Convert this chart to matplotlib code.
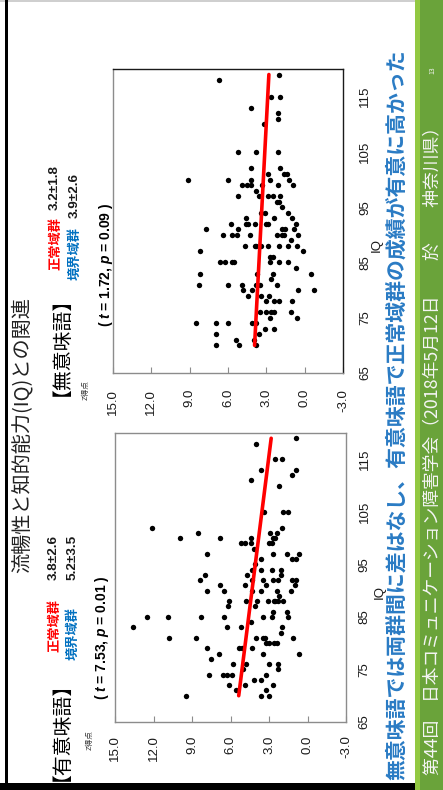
import matplotlib
matplotlib.use("Agg")
import matplotlib.pyplot as plt
from matplotlib.patches import Rectangle

W, H, DPI = 443, 790, 100

# ---------------- data ----------------
# 有意味語 (meaningful words): IQ and Z score per child
meaningful_iq = [70, 71, 70, 70, 71, 72, 72, 72, 73, 73, 74, 74, 74, 74, 74, 76, 76, 75,
                 76, 76, 75, 77, 78, 78, 78, 79, 79, 79, 79, 81, 81, 81, 81, 81, 80, 80,
                 80, 80, 81, 83, 85, 85, 85, 85, 83, 83, 84, 85, 85, 83, 82, 85, 86, 86,
                 87, 87, 88, 88, 88, 88, 88, 88, 88, 88, 90, 90, 91, 91, 90, 90, 91, 92,
                 92, 90, 89, 90, 91, 92, 92, 92, 93, 93, 92, 92, 94, 93, 94, 94, 94, 95,
                 96, 97, 97, 97, 96, 96, 97, 98, 99, 99, 99, 99, 100, 99, 100, 100, 100,
                 100, 101, 101, 101, 102, 102, 105, 105, 105, 110, 111, 113, 112, 113,
                 115, 115, 118, 119]
meaningful_z = [9.5, 5.6, 3.6, 3.0, 3.2, 6.1, 4.9, 2.7, 3.6, 4.2, 3.2, 7.7, 6.6, 6.3, 5.9,
                5.8, 4.8, 5.0, 3.0, 2.3, 2.3, 7.5, 6.9, 3.5, 0.7, 7.8, 5.3, 5.1, 4.3, 10.8,
                8.7, 4.0, 3.5, 3.3, 3.2, 3.0, 2.6, 2.4, 1.1, 13.6, 10.9, 12.5, 8.3, 6.5,
                6.3, 5.2, 4.4, 3.5, 2.8, 2.0, 2.1, 1.5, 1.6, 2.7, 4.1, 6.2, 6.1, 4.8, 3.9,
                3.1, 2.6, 2.5, 2.3, 1.9, 6.5, 7.8, 6.8, 4.9, 4.3, 3.6, 3.2, 2.7, 2.3, 2.4,
                2.2, 1.3, 1.0, 1.2, 0.9, 8.4, 8.0, 4.7, 4.3, 3.5, 2.8, 2.1, 2.1, 3.6, 4.3,
                4.1, 3.6, 7.8, 2.7, 1.6, 1.2, 0.9, 0.7, 4.2, 3.0, 2.8, 5.2, 4.9, 4.4, 4.4,
                6.8, 9.9, 2.7, 2.5, 8.5, 2.9, 2.4, 2.0, 12.1, 3.4, 1.9, 1.5, 2.2, 4.4, 3.6,
                1.2, 0.9, 2.5, 2.0, 4.0, 0.9]

# 無意味語 (nonsense words)
nonsense_iq = [70, 72, 70, 71, 70, 71, 72, 74, 74, 74, 74, 74, 73, 73, 75, 76, 76, 76, 76,
               75, 76, 78, 78, 78, 78, 79, 79, 79, 80, 80, 81, 81, 81, 81, 80, 80, 81, 81,
               83, 83, 83, 82, 84, 83, 85, 86, 86, 85, 85, 85, 85, 85, 85, 87, 88, 88, 88,
               88, 88, 88, 88, 88, 87, 89, 90, 90, 90, 90, 90, 90, 90, 90, 91, 91, 91, 91,
               91, 92, 92, 92, 92, 92, 92, 92, 93, 93, 93, 94, 94, 94, 95, 96, 96, 97, 97,
               97, 97, 97, 99, 99, 99, 98, 99, 99, 99, 100, 100, 100, 100, 100, 101, 101,
               101, 102, 102, 105, 105, 105, 110, 111, 112, 113, 115, 115, 118, 119]
nonsense_z = [6.9, 6.9, 5.1, 5.4, 3.8, 4.0, 3.6, 8.5, 6.9, 6.0, 4.1, 3.8, 3.1, 2.4, 2.7,
              3.5, 3.0, 2.6, 2.4, 0.6, 1.1, 1.0, 3.0, 2.4, 2.0, 2.8, 3.4, 4.4, 4.1, 4.8,
              4.9, 3.8, 3.5, 2.2, 0.5, -0.7, 6.0, 8.3, 8.2, 3.7, 2.5, 2.6, 0.7, -0.5, 2.0,
              2.7, 2.5, 2.7, 1.3, 6.6, 6.2, 5.7, 5.5, 8.2, 4.7, 3.9, 3.8, 3.4, 2.9, 2.0,
              1.3, 0.6, 0.1, 1.1, 0.5, 1.8, 1.6, 2.2, 4.3, 6.4, 5.7, 5.3, 0.8, 1.5, 1.8,
              5.2, 7.7, 5.8, 4.6, 4.4, 3.9, 3.0, 2.9, 0.7, 4.6, 2.4, 1.0, 3.4, 3.1, 1.3,
              1.8, 2.2, 2.0, 5.2, 3.6, 2.9, 2.5, 1.9, 4.9, 4.5, 4.2, 3.8, 3.3, 2.1, 0.9,
              9.1, 6.0, 4.2, 2.7, 1.2, 2.9, 1.6, 1.4, 4.2, 1.9, 5.2, 3.8, 2.1, 3.2, 2.1,
              2.1, 4.2, 2.6, 1.9, 6.7, 2.0]

# linear trend lines (IQ range and fitted Z at both ends)
meaningful_fit_iq = [70, 119]
meaningful_fit_z = [5.36, 2.83]
nonsense_fit_iq = [70, 119]
nonsense_fit_z = [3.92, 2.80]

z_ticks = [15, 12, 9, 6, 3, 0, -3]
z_ticklabels = ["15.0", "12.0", "9.0", "6.0", "3.0", "0.0", "-3.0"]
iq_ticks = [65, 75, 85, 95, 105, 115]

title = "流暢性と知的能力(IQ)との関連"
panel_titles = ["【有意味語】", "【無意味語】"]
normal_means = ["3.8±2.6", "3.2±1.8"]
border_means = ["5.2±3.5", "3.9±2.6"]
t_values = ["7.53", "1.72"]
p_values = ["0.01", "0.09"]
conclusion = "無意味語では両群間に差はなし、有意味語で正常域群の成績が有意に高かった"
footer = "第44回　日本コミュニケーション障害学会（2018年5月12日　　於　　神奈川県）"
page_no = "13"

# ---------------- style ----------------
JP = ["Noto Sans CJK JP", "DejaVu Sans"]
LAT = ["Liberation Sans", "Noto Sans CJK JP"]
plt.rcParams["font.family"] = LAT
plt.rcParams["mathtext.fontset"] = "custom"
plt.rcParams["mathtext.it"] = "Liberation Sans:italic:bold"
plt.rcParams["mathtext.rm"] = "Liberation Sans:bold"

fig = plt.figure(figsize=(W / DPI, H / DPI), dpi=DPI)
fig.patch.set_facecolor("white")


def px_rect(x0, y0, x1, y1, color):
    fig.add_artist(Rectangle((x0 / W, 1 - y1 / H), (x1 - x0) / W, (y1 - y0) / H,
                             transform=fig.transFigure, facecolor=color,
                             edgecolor="none", zorder=0))


def vtext(x, y, s, **kw):
    kw.setdefault("ha", "center")
    kw.setdefault("va", "center")
    fig.text(x / W, 1 - y / H, s, rotation=90, zorder=5, **kw)


# slide frame and footer band
px_rect(0, 0, 415, 2, "#cfcfcf")
px_rect(5, 0, 8, 790, "black")
px_rect(0, 783, 415, 790, "black")
px_rect(415, 0, 420, 790, "#92c842")
px_rect(420, 0, 443, 790, "#6aa33a")

# panel geometry in pixels: (x0, y0, x1, y1)
panels = [
    dict(box=(115, 433, 346, 722), iq=meaningful_iq, z=meaningful_z,
         fit_iq=meaningful_fit_iq, fit_z=meaningful_fit_z, dark=False,
         zpad=9.5, iqpad=9.0, iqlab_y=0.45),
    dict(box=(113, 69, 343, 373), iq=nonsense_iq, z=nonsense_z,
         fit_iq=nonsense_fit_iq, fit_z=nonsense_fit_z, dark=True,
         zpad=11.5, iqpad=11.5, iqlab_y=0.42),
]

for p in panels:
    x0, y0, x1, y1 = p["box"]
    ax = fig.add_axes([x0 / W, 1 - y1 / H, (x1 - x0) / W, (y1 - y0) / H])
    ax.set_facecolor("white")
    ax.scatter(p["z"], p["iq"], s=15, color="black", linewidths=0, zorder=3)
    ax.plot(p["fit_z"], p["fit_iq"], color="#ff0000", lw=2.6, solid_capstyle="round",
            zorder=4)
    ax.set_xlim(15, -3)
    ax.set_ylim(65, 120)
    ax.set_xticks(z_ticks)
    ax.set_xticklabels(z_ticklabels, rotation=90, fontsize=9.5, color="#1a1a1a")
    ax.set_yticks(iq_ticks)
    ax.set_yticklabels([str(v) for v in iq_ticks], rotation=90, fontsize=9.5,
                       color="#1a1a1a", va="center")
    ax.tick_params(axis="x", direction="in", length=4, width=0.8, color="#8c8c8c",
                   pad=p["zpad"])
    ax.tick_params(axis="y", length=0, left=False, right=False, labelleft=False,
                   labelright=True, pad=p["iqpad"])
    for side, sp in ax.spines.items():
        sp.set_linewidth(1.0)
        if p["dark"] and side in ("top", "right"):
            sp.set_color("#1a1a1a")
        else:
            sp.set_color("#8c8c8c")
    ax.text(1.148, p["iqlab_y"], "IQ", transform=ax.transAxes, rotation=90,
            ha="center", va="center", fontsize=9.5, color="#1a1a1a")

# titles and annotations
vtext(22, 435, title, family=JP, fontsize=14.5, color="#222222")
vtext(51, 721, panel_titles[0], family=JP, fontsize=14.3, color="black")
vtext(51, 336, panel_titles[1], family=JP, fontsize=14.3, color="black")

vtext(90, 740, "Z得点", family=JP, fontsize=5.5, color="#333333")
vtext(86, 390, "Z得点", family=JP, fontsize=5.5, color="#333333")

# group means
stat_rows = [
    # (x, label bottom, number bottom, label, colour, number)
    (54, 652, 580, "正常域群", "#ff0000", normal_means[0]),
    (73, 660, 580, "境界域群", "#0070c0", border_means[0]),
    (55, 270, 210, "正常域群", "#ff0000", normal_means[1]),
    (75, 280, 218, "境界域群", "#0070c0", border_means[1]),
]
for x, yl, yn, lab, col, num in stat_rows:
    vtext(x, yl, lab, family=JP, fontsize=9.5, fontweight="bold", color=col,
          va="bottom")
    vtext(x, yn, num, family=LAT, fontsize=9.7, fontweight="bold", color="#1a1a1a",
          va="bottom")

vtext(102, 638, f"( $t$ = {t_values[0]}, $p$ = {p_values[0]} )", fontsize=10,
      fontweight="bold", color="black")
vtext(106, 265, f"( $t$ = {t_values[1]}, $p$ = {p_values[1]} )", fontsize=10,
      fontweight="bold", color="black")

# conclusion line
vtext(397, 780, conclusion, family=JP, fontsize=15, fontweight="bold",
      color="#2a7bc4", va="bottom")

# footer
vtext(432, 775, footer, family=JP, fontsize=12.8, color="#f4f4f4", va="bottom")
vtext(432, 70, page_no, family=JP, fontsize=5, color="#f4f4f4")

fig.savefig("out.png", dpi=DPI, facecolor="white")
